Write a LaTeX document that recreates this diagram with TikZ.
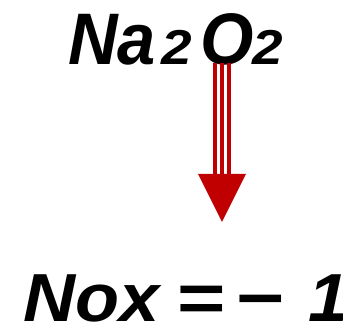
\documentclass[tikz,border=0pt]{standalone}
\usepackage{fontspec}
\setmainfont{Liberation Sans}
\newfontfamily\widefont[FakeStretch=1.06]{Liberation Sans}
\newfontfamily\narrowfont[FakeStretch=0.94]{Liberation Sans}
\newfontfamily\digitfont[FakeStretch=1.12]{Liberation Sans}
\newfontfamily\signfont[FakeStretch=1.22]{Liberation Sans}
\definecolor{arrowred}{HTML}{C00000}
\begin{document}
\begin{tikzpicture}[x=1pt,y=1pt,
  big/.style={inner sep=0pt,anchor=base west,font=\narrowfont\fontsize{73}{75}\selectfont\bfseries\itshape},
  small/.style={inner sep=0pt,anchor=base west,font=\digitfont\fontsize{49}{50}\selectfont\bfseries\itshape},
  result/.style={inner sep=0pt,anchor=base west,font=\widefont\fontsize{68}{70}\selectfont\bfseries\itshape},
  sign/.style={inner sep=0pt,anchor=base,font=\signfont\fontsize{68}{70}\selectfont\bfseries},
  shaft/.style={draw=arrowred},
  head/.style={fill=arrowred}]
\useasboundingbox (0,0) rectangle (343,331);
\node[big] (na) at (68,266) {Na};
\node[small] (n2) at (161,266) {2};
\node[big] (o) at (200,266) {O};
\node[small] (o2) at (252.5,266) {2};
\coordinate (s) at (222,268);
\coordinate (e) at (222,157);
\coordinate (tip) at (222,109);
\draw[shaft,line width=3.5pt] ([xshift=-7pt]s) -- ([xshift=-7pt]e);
\draw[shaft,line width=4pt] (s) -- (e);
\draw[shaft,line width=3.5pt] ([xshift=7pt]s) -- ([xshift=7pt]e);
\fill[head] (198,157) -- (246,157) -- (tip) -- cycle;
\node[result] (nox) at (23,9) {Nox};
\node[sign] (eq) at (201.5,9) {=};
\node[sign] (minus) at (261,9) {−};
\node[result] (one) at (308,9) {1};
\end{tikzpicture}
\end{document}
